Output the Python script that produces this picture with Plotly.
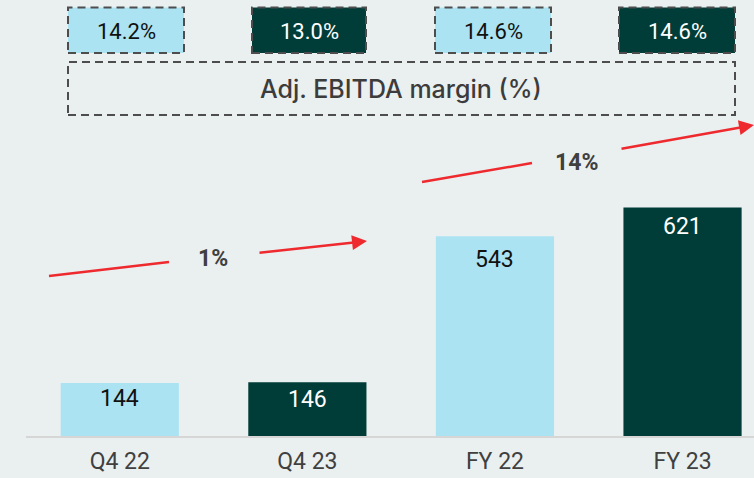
import plotly.graph_objects as go

# ---- data ----
categories = ["Q4 22", "Q4 23", "FY 22", "FY 23"]
values = [144, 146, 543, 621]
margins = ["14.2%", "13.0%", "14.6%", "14.6%"]
growth_labels = ["1%", "14%"]
margin_title = "Adj. EBITDA margin (%)"

LIGHT = "#abe3f3"
DARK = "#013d38"
BG = "#eaf0f0"
RED = "#ee2a2f"
GREY_TXT = "#404040"
BORDER = "#4d4d4d"
bar_colors = [LIGHT, DARK, LIGHT, DARK]
text_colors = ["#111111", "#ffffff", "#111111", "#ffffff"]
label_offsets = [15, 17, 23, 19]  # px below bar top (label centre)

W, H = 754, 478
ML, MB = 26, 42
X0, X1 = -0.5, 3.381
YMAX = 1185.0
PH = H - MB


def px2x(px):
    return X0 + (px - ML) / (W - ML) * (X1 - X0)


def py2y(py):
    return (PH - py) / PH * YMAX


fig = go.Figure()
fig.add_trace(go.Bar(
    x=list(range(len(categories))), y=values, width=0.63,
    marker=dict(color=bar_colors, line=dict(width=0)),
    hoverinfo="skip",
))

shapes = []
annotations = []

# bar value labels
for i, v in enumerate(values):
    annotations.append(dict(x=i, y=v, xref="x", yref="y", text=str(v), showarrow=False,
                            yanchor="middle", yshift=-label_offsets[i],
                            font=dict(size=23, color=text_colors[i], family="Roboto")))

# margin boxes
box_px = [(68, 184), (252, 366), (435, 551), (619, 735)]
for i, (a, b) in enumerate(box_px):
    shapes.append(dict(type="rect", xref="x", yref="y",
                       x0=px2x(a), x1=px2x(b), y0=py2y(53), y1=py2y(7.5),
                       fillcolor=bar_colors[i],
                       line=dict(color=BORDER, width=2, dash="8px,5px")))
    annotations.append(dict(x=px2x((a + b) / 2), y=py2y(31), xref="x", yref="y",
                            text=margins[i], showarrow=False,
                            font=dict(size=22, color=text_colors[i], family="Roboto")))

# title box
shapes.append(dict(type="rect", xref="x", yref="y",
                   x0=px2x(68), x1=px2x(735), y0=py2y(115), y1=py2y(62),
                   fillcolor="rgba(0,0,0,0)",
                   line=dict(color=BORDER, width=2, dash="8px,5px")))
annotations.append(dict(x=px2x(401), y=py2y(89), xref="x", yref="y",
                        text=margin_title, showarrow=False,
                        font=dict(size=25, color="#3c3c3c", family="Inter", weight=500)))

# growth arrows
arrows = [
    ((49, 276), (169, 262), (258, 253), (367, 241), (213, 258)),
    ((422, 182), (532, 163), (620, 149), (754, 125), (576, 162)),
]
for k, (p0, p1, p2, p3, lab) in enumerate(arrows):
    shapes.append(dict(type="line", xref="x", yref="y",
                       x0=px2x(p0[0]), y0=py2y(p0[1]), x1=px2x(p1[0]), y1=py2y(p1[1]),
                       line=dict(color=RED, width=2.5)))
    annotations.append(dict(x=px2x(p3[0]), y=py2y(p3[1]), xref="x", yref="y",
                            ax=px2x(p2[0]), ay=py2y(p2[1]), axref="x", ayref="y",
                            text="", showarrow=True, arrowhead=2, arrowsize=1.2,
                            arrowwidth=2.5, arrowcolor=RED, standoff=0))
    annotations.append(dict(x=px2x(lab[0]), y=py2y(lab[1]), xref="x", yref="y",
                            text="<b>%s</b>" % growth_labels[k], showarrow=False,
                            font=dict(size=23, color=GREY_TXT, family="Roboto")))

fig.update_layout(
    width=W, height=H,
    margin=dict(l=ML, r=0, t=0, b=MB, pad=0),
    paper_bgcolor=BG, plot_bgcolor=BG,
    showlegend=False,
    shapes=shapes, annotations=annotations,
    xaxis=dict(range=[X0, X1], tickmode="array", tickvals=list(range(len(categories))),
               ticktext=categories, showgrid=False, zeroline=False,
               showline=True, linecolor="#d6d6d6", linewidth=2, ticks="",
               ticklabelstandoff=3,
               tickfont=dict(size=23, color=GREY_TXT, family="Roboto"), fixedrange=True),
    yaxis=dict(range=[0, YMAX], visible=False, showgrid=False, zeroline=False, fixedrange=True),
    font=dict(family="Roboto"),
)

fig.write_html("out.html")
